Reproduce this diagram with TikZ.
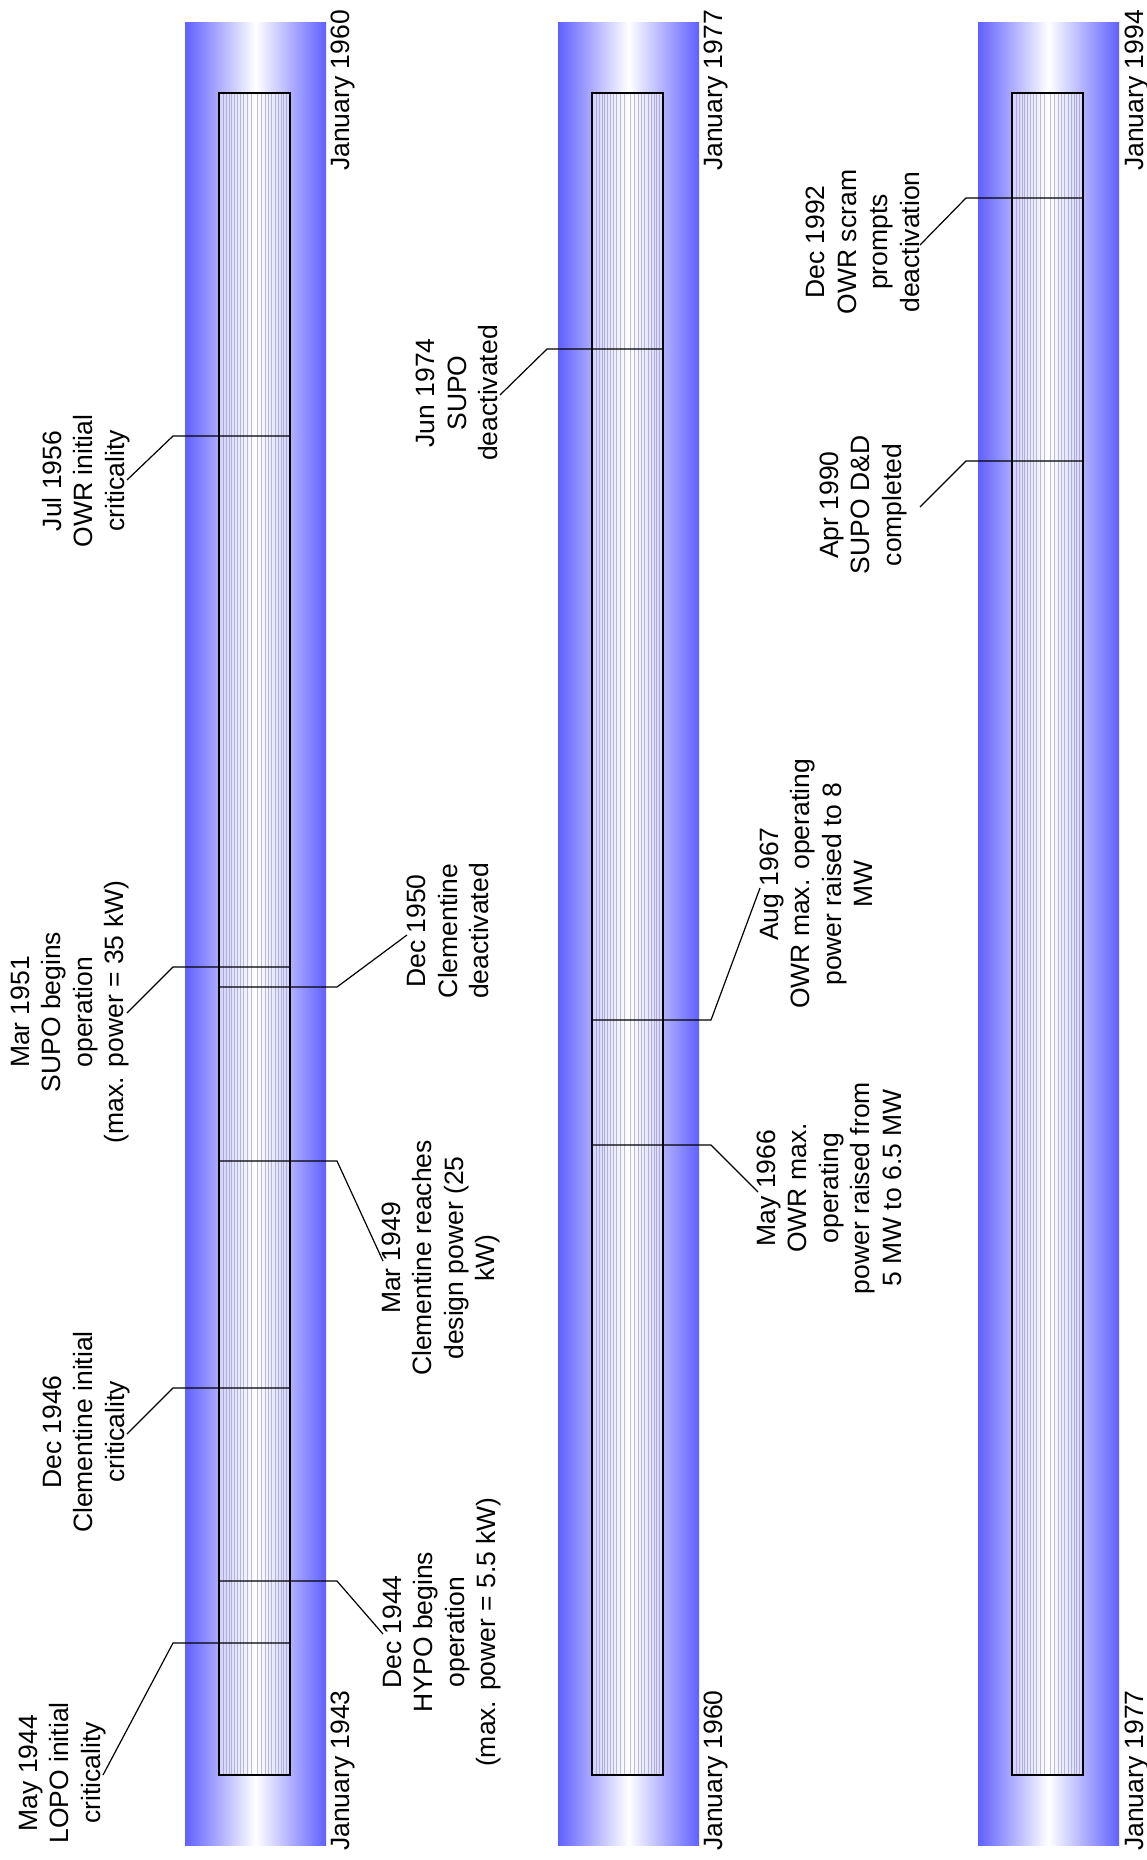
\documentclass[tikz,border=0pt]{standalone}
\usepackage{fontspec}
\setmainfont{Liberation Sans}
\definecolor{barblue}{RGB}{96,96,255}
\definecolor{hairc}{RGB}{130,130,175}
\begin{document}
\begin{tikzpicture}[x=1pt,y=-1pt,
  lbl/.style={rotate=90, align=center, inner sep=0pt, font=\fontsize{26.5}{31.5}\selectfont},
  axl/.style={rotate=90, inner sep=0pt, font=\fontsize{26.5}{31.5}\selectfont},
  conn/.style={line width=1.2pt, black},
  frame/.style={line width=1.6pt, black},
  hair/.style={line width=0.5pt, hairc, opacity=0.5},
]
\useasboundingbox[fill=white] (0,0) rectangle (1147,1860);

% bars
\foreach \bx in {185,558,978}{
  \shade[left color=barblue, right color=barblue, middle color=white] (\bx,23) rectangle (\bx+141,1845);
  \fill[white, opacity=0.45] (\bx+34,93) rectangle (\bx+105,1775);
  \foreach \o in {4,7,10,12,15,18,21,24,28,32,38,42,46,49,52,56,59,62,64,67}{
    \draw[hair] (\bx+34+\o,93) -- (\bx+34+\o,1775);
  }
  \draw[frame] (\bx+34,93) rectangle (\bx+105,1775);
}

% axis labels
\node[axl, anchor=base west] (ax1b) at (349,1851) {January 1943};
\node[axl, anchor=base east] (ax1t) at (349,10) {January 1960};
\node[axl, anchor=base west] (ax2b) at (722,1851) {January 1960};
\node[axl, anchor=base east] (ax2t) at (722,10) {January 1977};
\node[axl, anchor=base west] (ax3b) at (1143,1851) {January 1977};
\node[axl, anchor=base east] (ax3t) at (1143,10) {January 1994};

% ---- bar 1 events ----
% May 1944 (left)
\coordinate (a1) at (290,1643); \coordinate (k1) at (173,1643); \coordinate (t1) at (103,1775);
\draw[conn] (a1) -- (k1) -- (t1);
\node[lbl] (l1) at (62,1773) {May 1944\\LOPO initial\\criticality};
% Dec 1944 (right)
\coordinate (a2) at (219,1581); \coordinate (k2) at (337,1581); \coordinate (t2) at (383,1634);
\draw[conn] (a2) -- (k2) -- (t2);
\node[lbl] (l2) at (442,1632) {Dec 1944\\HYPO begins\\operation\\(max. power = 5.5 kW)};
% Dec 1946 (left)
\coordinate (a3) at (290,1388); \coordinate (k3) at (173,1388); \coordinate (t3) at (127,1434);
\draw[conn] (a3) -- (k3) -- (t3);
\node[lbl] (l3) at (86,1432) {Dec 1946\\Clementine initial\\criticality};
% Mar 1949 (right)
\coordinate (a4) at (219,1161); \coordinate (k4) at (337,1161); \coordinate (t4) at (383,1261);
\draw[conn] (a4) -- (k4) -- (t4);
\node[lbl] (l4) at (441,1258) {Mar 1949\\Clementine reaches\\design power (25\\kW)};
% Dec 1950 (right)
\coordinate (a5) at (219,987); \coordinate (k5) at (337,987); \coordinate (t5) at (407,935);
\draw[conn] (a5) -- (k5) -- (t5);
\node[lbl] (l5) at (448,931) {Dec 1950\\Clementine\\deactivated};
% Mar 1951 (left)
\coordinate (a6) at (290,967); \coordinate (k6) at (173,967); \coordinate (t6) at (127,1013);
\draw[conn] (a6) -- (k6) -- (t6);
\node[lbl] (l6) at (70,1012) {Mar 1951\\SUPO begins\\operation\\(max. power = 35 kW)};
% Jul 1956 (left)
\coordinate (a7) at (290,436); \coordinate (k7) at (173,436); \coordinate (t7) at (127,480);
\draw[conn] (a7) -- (k7) -- (t7);
\node[lbl] (l7) at (86,481) {Jul 1956\\OWR initial\\criticality};

% ---- bar 2 events ----
% Jun 1974 (left)
\coordinate (a8) at (663,349); \coordinate (k8) at (547,349); \coordinate (t8) at (500,395);
\draw[conn] (a8) -- (k8) -- (t8);
\node[lbl] (l8) at (457,393) {Jun 1974\\SUPO\\deactivated};
% May 1966 (right)
\coordinate (a9) at (592,1145); \coordinate (k9) at (711,1145); \coordinate (t9) at (758,1192);
\draw[conn] (a9) -- (k9) -- (t9);
\node[lbl] (l9) at (829,1188) {May 1966\\OWR max.\\operating\\power raised from\\5 MW to 6.5 MW};
% Aug 1967 (right)
\coordinate (a10) at (592,1020); \coordinate (k10) at (711,1020); \coordinate (t10) at (760,888);
\draw[conn] (a10) -- (k10) -- (t10);
\node[lbl] (l10) at (816,884) {Aug 1967\\OWR max. operating\\power raised to 8\\MW};

% ---- bar 3 events ----
% Dec 1992 (left)
\coordinate (a11) at (1083,198); \coordinate (k11) at (966,198); \coordinate (t11) at (920,245);
\draw[conn] (a11) -- (k11) -- (t11);
\node[lbl] (l11) at (863,242) {Dec 1992\\OWR scram\\prompts\\deactivation};
% Apr 1990 (left)
\coordinate (a12) at (1083,461); \coordinate (k12) at (966,461); \coordinate (t12) at (920,507);
\draw[conn] (a12) -- (k12) -- (t12);
\node[lbl] (l12) at (863,505) {Apr 1990\\SUPO D\&D\\completed};
\end{tikzpicture}
\end{document}
